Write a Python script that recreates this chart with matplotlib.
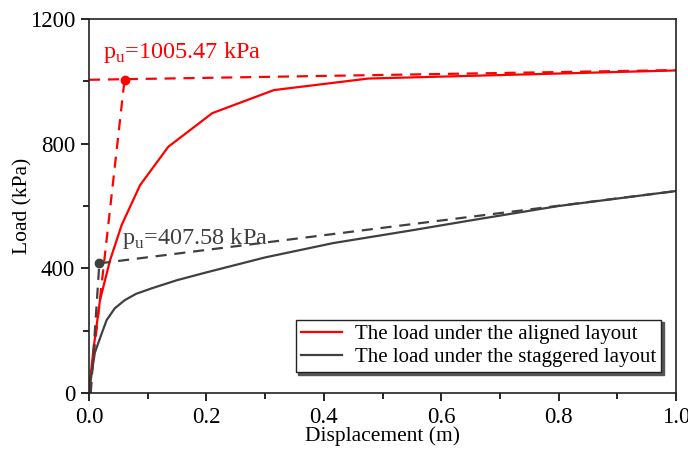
import numpy as np
import matplotlib
matplotlib.use('Agg')
import matplotlib.pyplot as plt
from matplotlib.ticker import MultipleLocator

plt.rcParams['font.family'] = ['Liberation Serif', 'DejaVu Serif']
plt.rcParams['mathtext.fontset'] = 'custom'
plt.rcParams['mathtext.rm'] = 'Liberation Serif'

# aligned layout (red)
disp_aligned = [0.0, 0.0017, 0.0074, 0.0187, 0.036, 0.0556, 0.087, 0.135, 0.21, 0.315, 0.476, 1.0]
load_aligned = [0, 38, 138, 298, 427, 539, 667, 790, 898, 972, 1009, 1035]

# staggered layout (grey)
disp_stag = [0.0, 0.005, 0.01, 0.0216, 0.030, 0.044, 0.061, 0.08, 0.107, 0.15, 0.198, 0.3, 0.416, 0.55, 0.654, 0.8, 1.0]
load_stag = [0, 70, 130, 191, 234, 272, 298, 318, 336, 362, 386, 435, 481, 522, 555, 600, 648]

# tangent lines used for ultimate load
tan1_aligned_x = [0.0007, 0.0605]
tan1_aligned_y = [0, 1005]
tan2_aligned_x = [0.0, 1.0]
tan2_aligned_y = [1005, 1036]
pu_aligned = (0.0605, 1005)

tan1_stag_x = [0.003, 0.0176]
tan1_stag_y = [0, 416]
tan2_stag_x = [0.0176, 1.0]
tan2_stag_y = [416, 648]
pu_stag = (0.0176, 416)

red = '#ff0000'
grey = '#404040'

fig = plt.figure(figsize=(6.88, 4.55), dpi=100)
ax = fig.add_axes([0.1294, 0.1363, 0.8532, 0.8219])

ax.plot(disp_aligned, load_aligned, color=red, lw=1.6, label='The load under the aligned layout')
ax.plot(disp_stag, load_stag, color=grey, lw=1.6, label='The load under the staggered layout')

ax.plot(tan1_aligned_x, tan1_aligned_y, color=red, lw=1.6, ls=(0, (5, 3.5)))
ax.plot(tan2_aligned_x, tan2_aligned_y, color=red, lw=1.6, ls=(0, (5, 3.5)))
ax.plot(*pu_aligned, 'o', color=red, ms=6)
ax.plot(tan1_stag_x, tan1_stag_y, color=grey, lw=1.6, ls=(0, (5, 3.5)))
ax.plot(tan2_stag_x, tan2_stag_y, color=grey, lw=1.6, ls=(0, (5, 3.5)))
ax.plot(*pu_stag, 'o', color=grey, ms=6)

ax.text(0.024, 1092, r'p$_\mathrm{u}$=1005.47 kPa', color=red, fontsize=17.5, va='center')
ax.text(0.056, 497, r'p$_\mathrm{u}$=407.58 kPa', color=grey, fontsize=17.5, va='center')

ax.set_xlim(0, 1.0)
ax.set_ylim(0, 1200)
ax.xaxis.set_major_locator(MultipleLocator(0.2))
ax.xaxis.set_minor_locator(MultipleLocator(0.1))
ax.yaxis.set_major_locator(MultipleLocator(400))
ax.yaxis.set_minor_locator(MultipleLocator(200))
ax.set_xticklabels([f'{v:.1f}' for v in ax.get_xticks()])
ax.tick_params(which='major', direction='out', length=6, width=1.2, labelsize=16.5, pad=4)
ax.tick_params(which='minor', direction='out', length=4, width=1.2)
for s in ax.spines.values():
    s.set_linewidth(1.2)
    s.set_color('#222222')

ax.set_xlabel('Displacement (m)', fontsize=15.5, labelpad=-1)
ax.set_ylabel('Load (kPa)', fontsize=15.5, labelpad=-2)

leg = ax.legend(loc='lower right', bbox_to_anchor=(0.975, 0.055), fontsize=15,
                frameon=True, fancybox=False, shadow={'color': '#555555', 'alpha': 1},
                edgecolor='#222222', handlelength=2.0, borderpad=0.25,
                labelspacing=0.15, handletextpad=0.6, borderaxespad=0)
leg.get_frame().set_linewidth(1.0)

fig.savefig('out.png', dpi=100)
